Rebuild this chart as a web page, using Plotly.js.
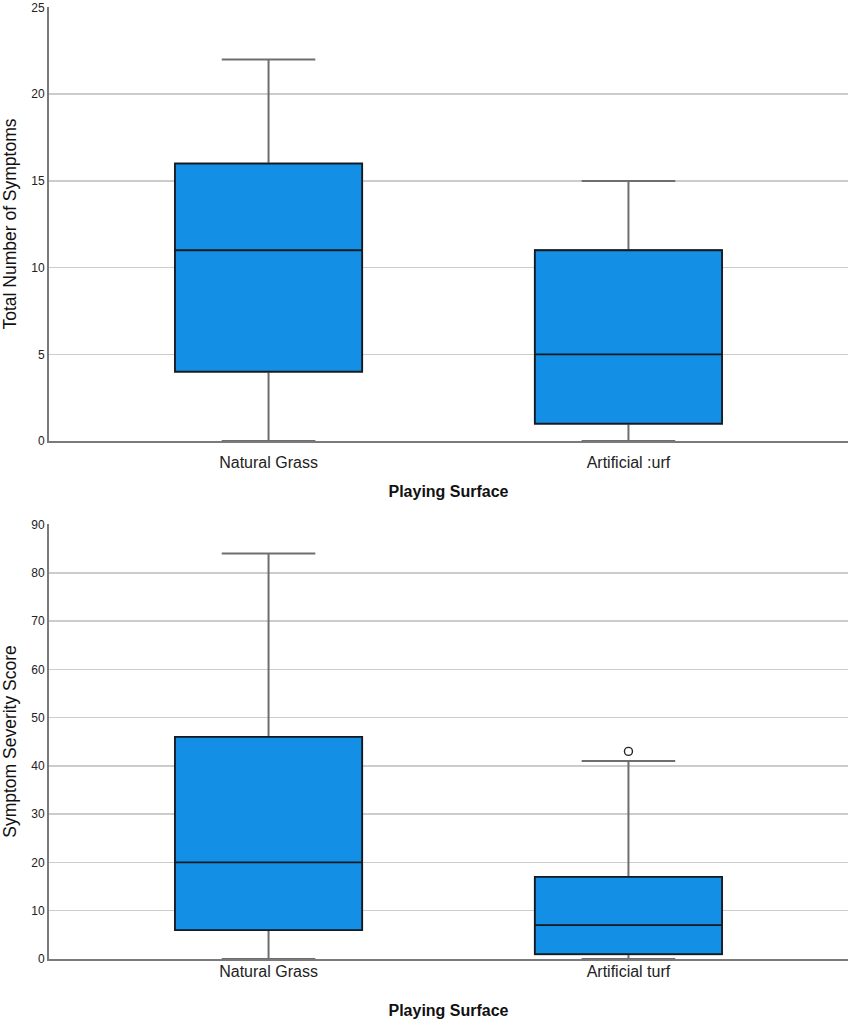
<!DOCTYPE html>
<html>
<head>
<meta charset="utf-8">
<script src="https://cdn.plot.ly/plotly-3.0.1.min.js"></script>
<style>html,body{margin:0;padding:0;background:#fff;}#chart{width:850px;height:1019px;}</style>
</head>
<body>
<div id="chart"></div>
<script>
// Categories (tick labels as shown in the reference)
const categoriesTop = ['Natural Grass', 'Artificial :urf'];
const categoriesBottom = ['Natural Grass', 'Artificial turf'];

// Total Number of Symptoms (top panel)
const symLowerFence = [0, 0];
const symQ1 = [4, 1];
const symMedian = [11, 5];
const symQ3 = [16, 11];
const symUpperFence = [22, 15];

// Symptom Severity Score (bottom panel)
const sevLowerFence = [0, 0];
const sevQ1 = [6, 1];
const sevMedian = [20, 7];
const sevQ3 = [46, 17];
const sevUpperFence = [84, 41];

// Outliers (bottom panel)
const sevOutlierX = ['Artificial turf'];
const sevOutlierY = [43];

const FILL = '#1390e6';
const WHISK = '#6e6e6e';
const EDGE = '#151a20';

function boxPair(cats, lf, q1, med, q3, uf, xa, ya) {
  const common = {type: 'box', x: cats, q1: q1, median: med, q3: q3,
    width: 0.52, whiskerwidth: 0.5, boxpoints: false, fillcolor: FILL,
    xaxis: xa, yaxis: ya, showlegend: false, hoverinfo: 'skip'};
  return [
    Object.assign({}, common, {lowerfence: lf, upperfence: uf, line: {color: WHISK, width: 2}}),
    Object.assign({}, common, {lowerfence: q1, upperfence: q3, line: {color: EDGE, width: 1.8}})
  ];
}

const data = [].concat(
  boxPair(categoriesTop, symLowerFence, symQ1, symMedian, symQ3, symUpperFence, 'x', 'y'),
  boxPair(categoriesBottom, sevLowerFence, sevQ1, sevMedian, sevQ3, sevUpperFence, 'x2', 'y2'),
  [{type: 'scatter', mode: 'markers', x: sevOutlierX, y: sevOutlierY, xaxis: 'x2', yaxis: 'y2',
    marker: {symbol: 'circle-open', size: 8, color: '#222', line: {width: 1.4, color: '#222'}},
    showlegend: false, hoverinfo: 'skip'}]
);

const FAM = 'Liberation Sans, Arial, sans-serif';
const H = 1019, W = 850;
function yd(topPx, botPx) { return [1 - botPx / H, 1 - topPx / H]; }
const xdom = [49 / W, 848 / W];

const xBase = {
  domain: xdom, range: [-0.61, 1.61], type: 'category',
  showline: true, linecolor: '#7a7a7a', linewidth: 2, showgrid: false,
  ticks: '', tickfont: {family: FAM, size: 16, color: '#222'},
  automargin: false, zeroline: false, fixedrange: true
};
const yBase = {
  showline: true, linecolor: '#7a7a7a', linewidth: 2,
  showgrid: true, gridcolor: '#cccccc', gridwidth: 1.5,
  ticks: '', tickfont: {family: FAM, size: 12, color: '#222'},
  ticklabeloverflow: 'allow',
  zeroline: false, automargin: false, fixedrange: true
};
const xTitleFont = {family: FAM, size: 16, color: '#111', weight: 'bold'};
const yTitleFont = {family: FAM, size: 17.5, color: '#111'};

const layout = {
  width: W, height: H, paper_bgcolor: '#fff', plot_bgcolor: '#fff',
  margin: {l: 0, r: 0, t: 0, b: 0}, showlegend: false,
  font: {family: FAM, color: '#222'},
  boxmode: 'overlay',
  xaxis: Object.assign({}, xBase, {anchor: 'y', ticklabelstandoff: 6,
    title: {text: 'Playing Surface', font: xTitleFont, standoff: 16}}),
  yaxis: Object.assign({}, yBase, {domain: yd(7, 441), range: [0, 25.03], tickvals: [0, 5, 10, 15, 20, 25], anchor: 'x',
    title: {text: 'Total Number of Symptoms', font: yTitleFont, standoff: 10}}),
  xaxis2: Object.assign({}, xBase, {anchor: 'y2', ticklabelstandoff: -3,
    title: {text: 'Playing Surface', font: xTitleFont, standoff: 26}}),
  yaxis2: Object.assign({}, yBase, {domain: yd(524, 959), range: [0, 90.1], tickvals: [0, 10, 20, 30, 40, 50, 60, 70, 80, 90], anchor: 'x2',
    title: {text: 'Symptom Severity Score', font: yTitleFont, standoff: 10}})
};

Plotly.newPlot('chart', data, layout, {staticPlot: true, displayModeBar: false});
</script>
</body>
</html>
